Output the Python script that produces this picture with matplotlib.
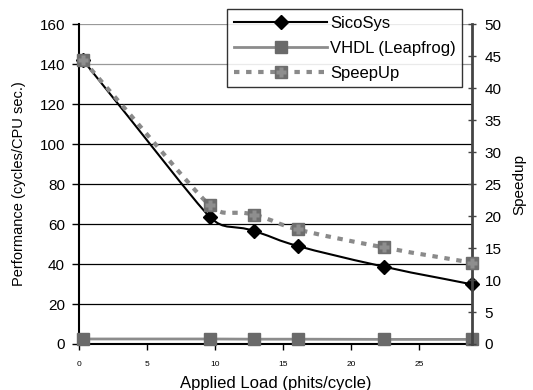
import numpy as np
import matplotlib
matplotlib.use('Agg')
import matplotlib.pyplot as plt
from matplotlib.path import Path
from matplotlib.patches import PathPatch
from matplotlib.lines import Line2D
from matplotlib.legend_handler import HandlerTuple

plt.rcParams['font.family'] = ['Liberation Sans', 'DejaVu Sans']

# data
load = [0.3, 9.6, 12.9, 16.1, 22.4, 28.9]
sicosys = [142, 63.7, 56.5, 49, 38.7, 29.8]
vhdl = [2.5, 2.5, 2.4, 2.4, 2.3, 2.3]
speedup = [44.4, 21.7, 20.2, 17.9, 15.1, 12.7]

left_ticks = [0, 20, 40, 60, 80, 100, 120, 140, 160]
right_ticks = [0, 5, 10, 15, 20, 25, 30, 35, 40, 45, 50]
x_ticks = [0, 5, 10, 15, 20, 25]


def smooth_path(x, y, xr, yr, t=0.5):
    # smoothed line as cubic Bezier through the points; handle lengths
    # limited by the shorter neighbouring segment (axis-normalised units)
    x = np.asarray(x, float)
    y = np.asarray(y, float)
    P = np.column_stack([x / xr, y / yr])
    n = len(P)
    d = np.linalg.norm(np.diff(P, axis=0), axis=1)
    tang = []
    for i in range(n):
        v = P[min(i + 1, n - 1)] - P[max(i - 1, 0)]
        tang.append(v / (np.linalg.norm(v) + 1e-12))
    verts = [tuple(P[0])]
    codes = [Path.MOVETO]
    for i in range(n - 1):
        l1 = min(d[i], d[i - 1]) if i > 0 else d[i]
        l2 = min(d[i], d[i + 1]) if i + 1 < n - 1 else d[i]
        c1 = P[i] + tang[i] * l1 * t
        c2 = P[i + 1] - tang[i + 1] * l2 * t
        verts += [tuple(c1), tuple(c2), tuple(P[i + 1])]
        codes += [Path.CURVE4] * 3
    verts = np.array(verts) * [xr, yr]
    return Path(verts, codes)


fig = plt.figure(figsize=(5.33, 3.9), dpi=100)
ax = fig.add_axes([0.148, 0.118, 0.738, 0.820])
ax2 = ax.twinx()

ax.set_xlim(0, 28.9)
ax.set_ylim(0, 160)
ax2.set_ylim(0, 50)

# grid lines
for v in left_ticks[1:]:
    col = '#999999' if v >= 140 else 'black'
    ax.axhline(v, color=col, lw=0.9, zorder=1)

# VHDL
ax.plot(load, vhdl, color='#8c8c8c', lw=2, zorder=3)
ax.plot(load, vhdl, ls='none', marker='s', ms=8, mfc='#6a6a6a', mec='#6a6a6a',
        zorder=4, clip_on=False)

# SicoSys
ax.add_patch(PathPatch(smooth_path(load, sicosys, 28.9, 160), fill=False,
                       ec='black', lw=1.5, zorder=5))
ax.plot(load, sicosys, ls='none', marker='D', ms=7, color='black', zorder=6,
        clip_on=False)

# Speedup on the right axis
ax2.add_patch(PathPatch(smooth_path(load, speedup, 28.9, 50), fill=False,
                        ec='#8a8a8a', lw=3, ls=(0, (1.3, 1.6)), zorder=5))
ax2.plot(load, speedup, ls='none', marker='s', ms=8, mfc='#6e6e6e',
         mec='#6e6e6e', zorder=6, clip_on=False)
ax2.plot(load, speedup, ls='none', marker='P', ms=7, mfc='#8e8e8e',
         mec='none', zorder=7, clip_on=False)

# axes styling
for s in ['top', 'right']:
    ax.spines[s].set_visible(False)
for s in ['top', 'left', 'bottom']:
    ax2.spines[s].set_visible(False)
ax.spines['left'].set_linewidth(1.5)
ax.spines['bottom'].set_linewidth(1.5)
ax2.spines['right'].set_linewidth(2)
ax2.spines['right'].set_color('#444444')

ax.set_yticks(left_ticks)
ax.set_xticks(x_ticks)
ax.set_xticklabels([str(v) for v in x_ticks], fontsize=6)
ax.tick_params(axis='y', labelsize=11, length=5, width=1, direction='out',
               pad=5)
ax.tick_params(axis='x', length=4, width=1, direction='out', pad=8)
ax2.set_yticks(right_ticks)
ax2.tick_params(axis='y', labelsize=11, length=6, width=1, direction='inout',
                color='#444444', pad=6)

ax.set_xlabel('Applied Load (phits/cycle)', fontsize=12, labelpad=6)
ax.set_ylabel('Performance (cycles/CPU sec.)', fontsize=10.5, labelpad=10)
ax2.set_ylabel('Speedup', fontsize=11, labelpad=8)

# legend
h1 = Line2D([], [], color='black', lw=1.5, marker='D', ms=7)
h2 = Line2D([], [], color='#8c8c8c', lw=2, marker='s', ms=8,
            mfc='#6a6a6a', mec='#6a6a6a')
h3a = Line2D([], [], color='#8a8a8a', lw=3, ls=(0, (1.3, 1.6)))
h3b = Line2D([], [], ls='none', marker='s', ms=8, mfc='#6e6e6e', mec='#6e6e6e')
h3c = Line2D([], [], ls='none', marker='P', ms=7, mfc='#8e8e8e', mec='none')
leg = ax2.legend([h1, h2, (h3a, h3b, h3c)],
                 ['SicoSys', 'VHDL (Leapfrog)', 'SpeepUp'],
                 handler_map={tuple: HandlerTuple(ndivide=1, pad=0)},
                 loc='upper right', bbox_to_anchor=(0.975, 1.047),
                 fontsize=12, frameon=True, fancybox=False,
                 handlelength=5.6, borderpad=0.4, labelspacing=0.6,
                 handletextpad=0.15, borderaxespad=0)
leg.get_frame().set_edgecolor('black')
leg.get_frame().set_linewidth(1)
leg.set_zorder(10)

fig.savefig('out.png', dpi=100)
